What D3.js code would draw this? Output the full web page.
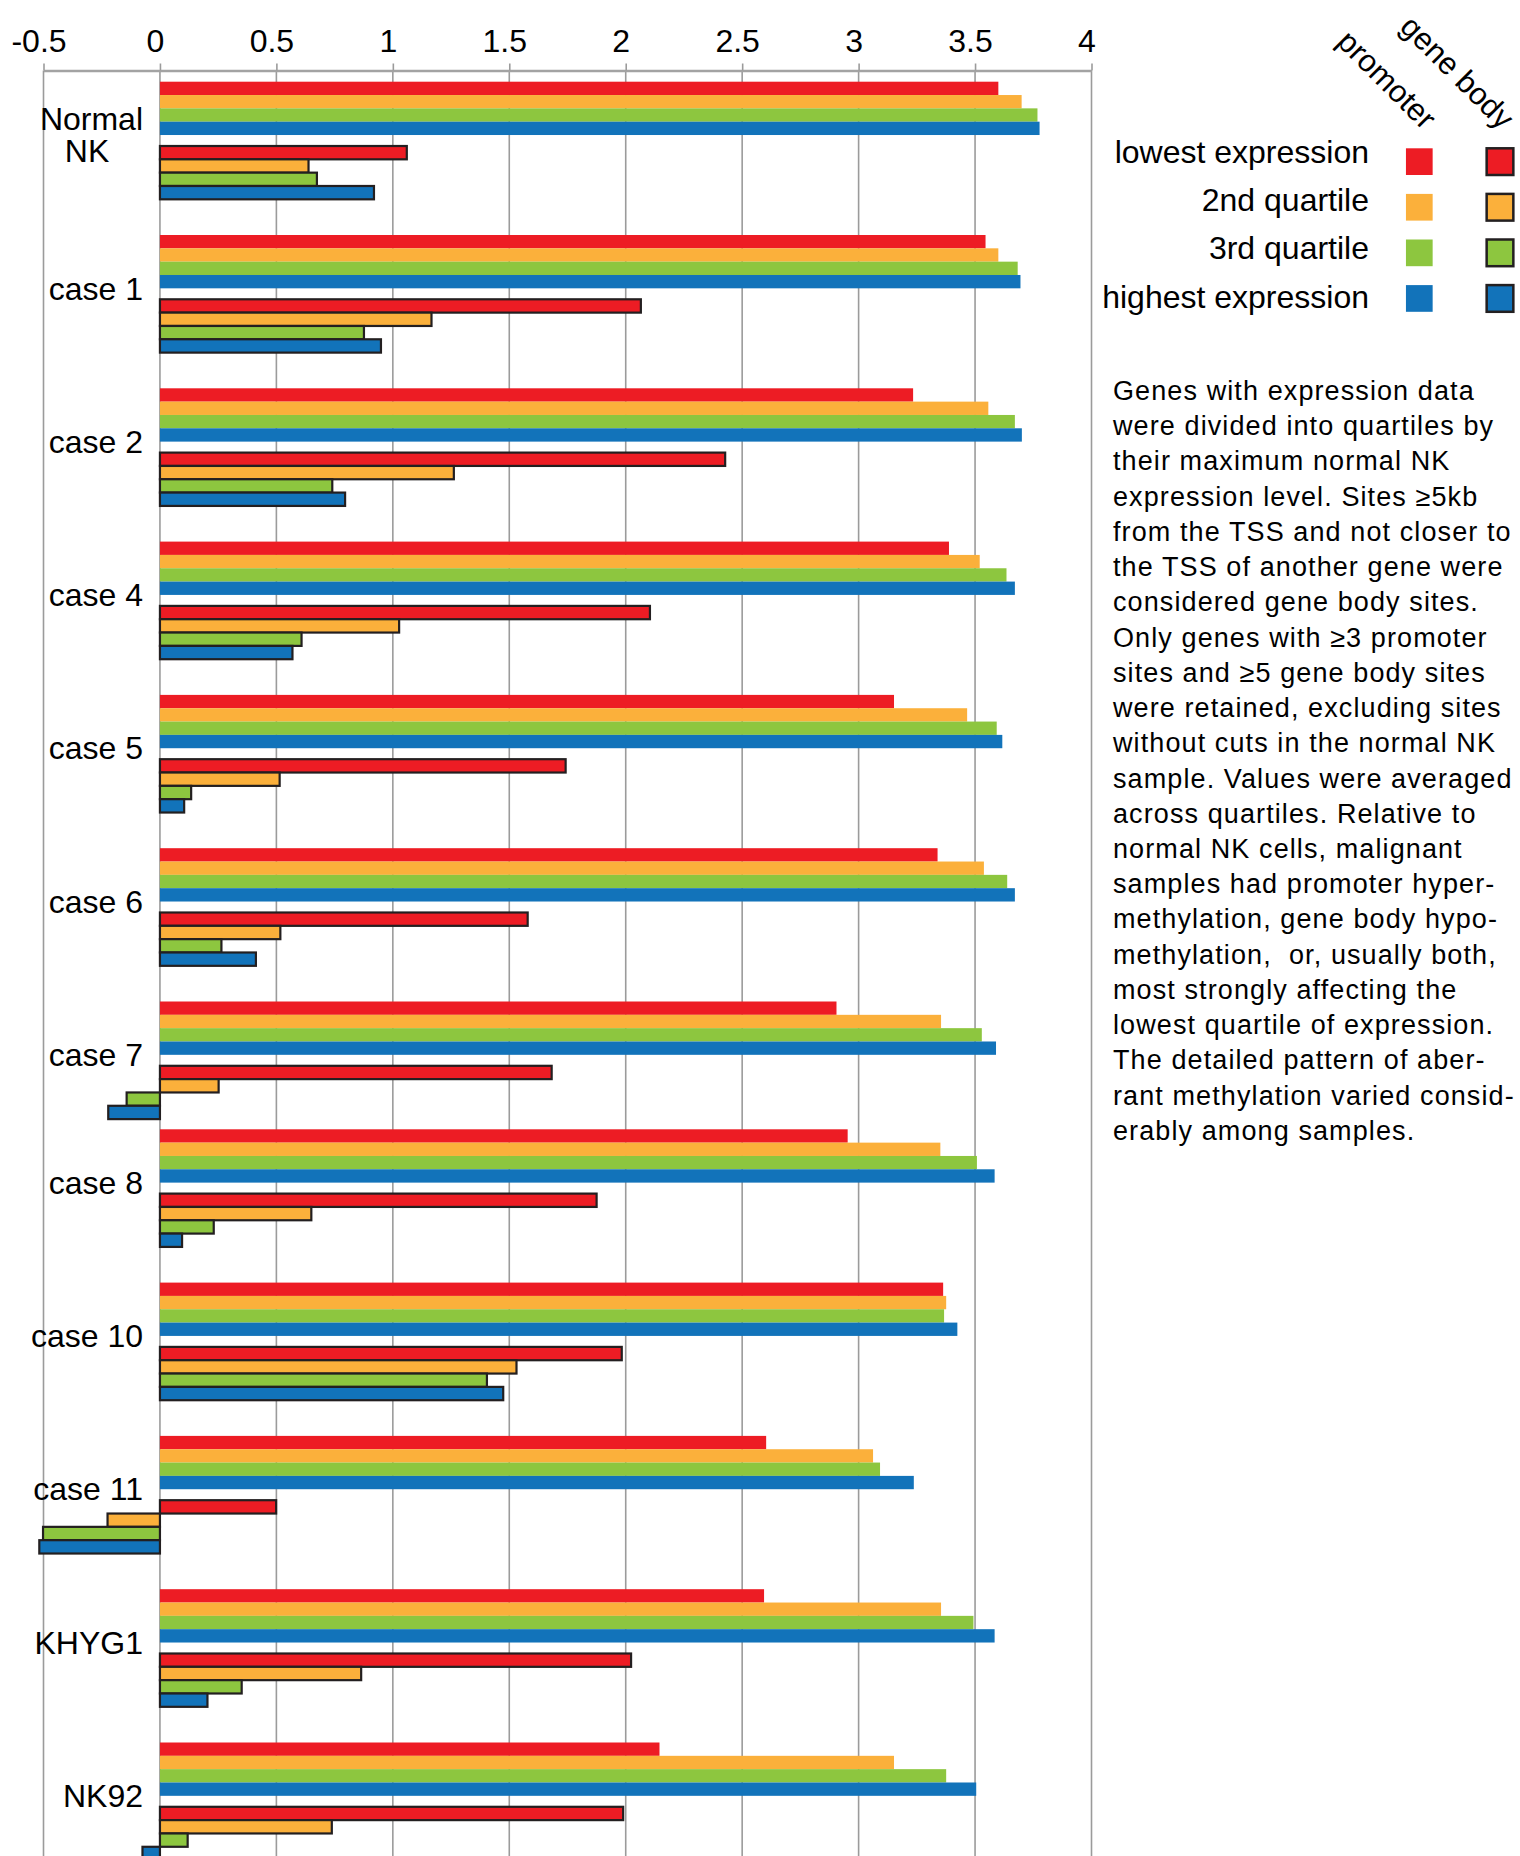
<!DOCTYPE html>
<html>
<head>
<meta charset="utf-8">
<script src="https://cdn.jsdelivr.net/npm/d3@7"></script>
<style>
  html, body { margin: 0; padding: 0; background: #fff; }
  svg { display: block; }
  text { font-family: "Liberation Sans", Arial, Helvetica, sans-serif; fill: #000; }
</style>
</head>
<body>
<svg id="chart" width="1520" height="1856"></svg>
<script>
// Samples, top to bottom
const categories = ["Normal NK", "case 1", "case 2", "case 4", "case 5", "case 6",
                    "case 7", "case 8", "case 10", "case 11", "KHYG1", "NK92"];

// Expression quartiles (legend rows)
const quartiles = ["lowest expression", "2nd quartile", "3rd quartile", "highest expression"];
const quartileColors = ["#ED1C24", "#FBB03B", "#8DC63F", "#1273BA"];

// Promoter methylation, one array per quartile, in category order
const promoterLowest  = [3.600, 3.545, 3.234, 3.388, 3.152, 3.339, 2.905, 2.953, 3.363, 2.603, 2.594, 2.145];
const promoterQ2      = [3.700, 3.600, 3.557, 3.520, 3.466, 3.538, 3.354, 3.351, 3.376, 3.062, 3.354, 3.152];
const promoterQ3      = [3.768, 3.683, 3.671, 3.635, 3.593, 3.638, 3.529, 3.508, 3.367, 3.092, 3.493, 3.376];
const promoterHighest = [3.777, 3.695, 3.701, 3.671, 3.617, 3.671, 3.590, 3.584, 3.424, 3.237, 3.584, 3.505];

// Gene body methylation, one array per quartile, in category order
const bodyLowest  = [1.060, 2.065, 2.427, 2.104, 1.742, 1.579, 1.682, 1.875, 1.983, 0.499, 2.023, 1.989];
const bodyQ2      = [0.638, 1.166, 1.262, 1.027, 0.514, 0.517, 0.252, 0.650, 1.531, -0.225, 0.864, 0.738];
const bodyQ3      = [0.674, 0.876, 0.740, 0.608, 0.134, 0.264, -0.143, 0.231, 1.404, -0.502, 0.351, 0.119];
const bodyHighest = [0.919, 0.949, 0.795, 0.569, 0.104, 0.412, -0.222, 0.095, 1.474, -0.518, 0.204, -0.075];

// Axis ticks
const tickValues = [-0.5, 0, 0.5, 1, 1.5, 2, 2.5, 3, 3.5, 4];

// Column headers of the legend
const legendHeaders = ["promoter", "gene body"];

// Explanatory note, one entry per line
const noteLines = [
  "Genes with expression data",
  "were divided into quartiles by",
  "their maximum normal NK",
  "expression level. Sites \u22655kb",
  "from the TSS and not closer to",
  "the TSS of another gene were",
  "considered gene body sites.",
  "Only genes with \u22653 promoter",
  "sites and \u22655 gene body sites",
  "were retained, excluding sites",
  "without cuts in the normal NK",
  "sample. Values were averaged",
  "across quartiles. Relative to",
  "normal NK cells, malignant",
  "samples had promoter hyper-",
  "methylation, gene body hypo-",
  "methylation,  or, usually both,",
  "most strongly affecting the",
  "lowest quartile of expression.",
  "The detailed pattern of aber-",
  "rant methylation varied consid-",
  "erably among samples."
];

// ---- layout ----
const W = 1520, H = 1856;
const axisY = 70.5;
const firstGroupTop = 81.7;
const groupStep = 153.3;
const barH = 13.33;
const bodyOffset = 64.3;           // gene body block starts below the promoter block
const compactAfter = "case 7";      // groups after this one sit a little closer
const compactShift = 25.5;

const promoterSeries = [promoterLowest, promoterQ2, promoterQ3, promoterHighest];
const bodySeries = [bodyLowest, bodyQ2, bodyQ3, bodyHighest];

const svg = d3.select("#chart");

const x = d3.scaleLinear().domain([-0.5, 4]).range([43.5, 1091.5]);

const yGroup = d3.scalePoint()
  .domain(categories)
  .range([firstGroupTop, firstGroupTop + groupStep * (categories.length - 1)]);
const compactIndex = categories.indexOf(compactAfter);
const groupTop = c => yGroup(c) - (categories.indexOf(c) > compactIndex ? compactShift : 0);

const yInner = d3.scaleBand().domain(quartiles).range([0, barH * 4]).padding(0);

// gridlines
svg.append("g")
  .selectAll("line")
  .data(tickValues)
  .join("line")
  .attr("x1", d => x(d)).attr("x2", d => x(d))
  .attr("y1", axisY).attr("y2", H)
  .attr("stroke", "#9b9b9b")
  .attr("stroke-width", 1.6);

// top axis
const axis = svg.append("g")
  .attr("transform", `translate(0,${axisY})`)
  .call(d3.axisTop(x)
    .tickValues(tickValues)
    .tickFormat(d => String(d))
    .tickSizeInner(7)
    .tickSizeOuter(0)
    .tickPadding(12));
axis.select(".domain").attr("stroke", "#a3a3a3").attr("stroke-width", 2.6);
axis.selectAll(".tick line").attr("stroke", "#9b9b9b").attr("stroke-width", 1.6);
axis.selectAll(".tick text")
  .attr("font-family", "Liberation Sans, Arial, sans-serif")
  .attr("font-size", 32)
  .attr("dx", -5)
  .attr("fill", "#000");

// bars
const rows = [];
categories.forEach((c, ci) => {
  quartiles.forEach((q, qi) => {
    rows.push({ cat: c, q, qi, kind: "promoter", value: promoterSeries[qi][ci] });
    rows.push({ cat: c, q, qi, kind: "body", value: bodySeries[qi][ci] });
  });
});

const barsG = svg.append("g");
barsG.selectAll("rect.promoter")
  .data(rows.filter(r => r.kind === "promoter"))
  .join("rect")
  .attr("class", "promoter")
  .attr("x", d => x(Math.min(0, d.value)))
  .attr("width", d => Math.abs(x(d.value) - x(0)))
  .attr("y", d => groupTop(d.cat) + yInner(d.q))
  .attr("height", yInner.bandwidth())
  .attr("fill", d => quartileColors[d.qi]);

barsG.selectAll("rect.body")
  .data(rows.filter(r => r.kind === "body"))
  .join("rect")
  .attr("class", "body")
  .attr("x", d => x(Math.min(0, d.value)))
  .attr("width", d => Math.abs(x(d.value) - x(0)))
  .attr("y", d => groupTop(d.cat) + bodyOffset + yInner(d.q))
  .attr("height", yInner.bandwidth())
  .attr("fill", d => quartileColors[d.qi])
  .attr("stroke", "#231F20")
  .attr("stroke-width", 2.2);

// category labels
const labelsG = svg.append("g").attr("font-size", 32);
categories.forEach(c => {
  const top = groupTop(c);
  const words = c.split(" ");
  if (c === "Normal NK") {
    // two-line label in a single text element
    const t = labelsG.append("text");
    t.append("tspan").attr("x", 143).attr("y", top + 48.3)
      .attr("text-anchor", "end").text(words[0]);
    t.append("tspan").attr("x", 87).attr("y", top + 80)
      .attr("text-anchor", "middle").text(words[1]);
  } else {
    labelsG.append("text").attr("x", 143).attr("y", top + 64.5)
      .attr("text-anchor", "end").text(c);
  }
});

// legend
const legendG = svg.append("g");
const colX = [1419.3, 1500];
const sq = 26.7;
quartiles.forEach((q, i) => {
  legendG.append("text")
    .attr("x", 1369).attr("y", 162.7 + i * 48.3)
    .attr("text-anchor", "end").attr("font-size", 32)
    .text(q);
  const sy = 148.3 + i * 45.6;
  legendG.append("rect")
    .attr("x", colX[0] - sq / 2).attr("y", sy).attr("width", sq).attr("height", sq)
    .attr("fill", quartileColors[i]);
  legendG.append("rect")
    .attr("x", colX[1] - sq / 2).attr("y", sy).attr("width", sq).attr("height", sq)
    .attr("fill", quartileColors[i])
    .attr("stroke", "#231F20").attr("stroke-width", 2.5);
});
const headerEndX = [colX[0] + 4, colX[1] + 1];
legendHeaders.forEach((h, i) => {
  legendG.append("text")
    .attr("transform", `translate(${headerEndX[i]},131) rotate(45)`)
    .attr("text-anchor", "end").attr("font-size", 31)
    .text(h);
});

// explanatory note
const note = svg.append("text")
  .attr("font-size", 27)
  .attr("letter-spacing", 1.1)
  .style("white-space", "pre");
noteLines.forEach((line, i) => {
  note.append("tspan").attr("x", 1113).attr("y", 400 + i * 35.23).text(line);
});
</script>
</body>
</html>
